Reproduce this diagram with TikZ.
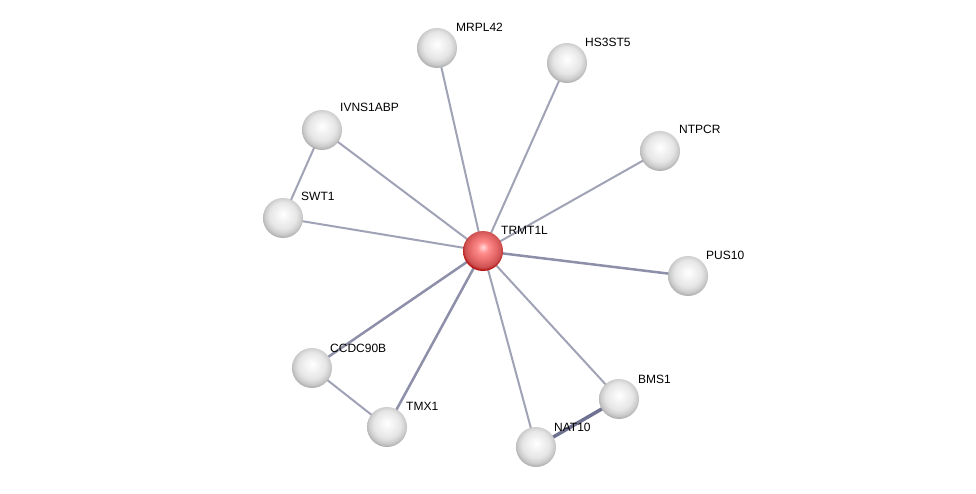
\documentclass[tikz,border=0pt]{standalone}
\usepackage{fontspec}
\setmainfont{Liberation Sans}
\usetikzlibrary{backgrounds}
\pgfdeclareradialshading{bead}{\pgfpoint{0bp}{5bp}}{color(0bp)=(white); color(7bp)=(gray!8); color(17bp)=(gray!20); color(23bp)=(gray!40); color(27bp)=(gray!65); color(50bp)=(gray!65)}
\pgfdeclareradialshading{redbead}{\pgfpoint{0bp}{5bp}}{color(0bp)=(red!15!white); color(7bp)=(red!45!white); color(17bp)=(red!55!white!90!black); color(23bp)=(red!60!white!80!black); color(27bp)=(red!70!black); color(50bp)=(red!70!black)}
\begin{document}
\begin{tikzpicture}[x=1pt,y=-1pt,
  prot/.style={circle,minimum size=40pt,inner sep=0pt,shading=bead},
  hub/.style={prot,shading=redbead},
  lbl/.style={anchor=base west,inner sep=0pt,font=\fontsize{12}{14}\selectfont},
  link/.style={line width=2pt,color={rgb,255:red,160;green,162;blue,182}},
  strong/.style={line width=2.5pt,color={rgb,255:red,142;green,144;blue,170}}]
\useasboundingbox (0,0) rectangle (976,494);

% proteins
\node[hub] (trmt) at (483,251) {};
\node[prot] (mrpl) at (437,48) {};
\node[prot] (hs3) at (567,63) {};
\node[prot] (ivns) at (322,130) {};
\node[prot] (ntpcr) at (660,151) {};
\node[prot] (swt) at (283,218) {};
\node[prot] (pus) at (688,276) {};
\node[prot] (ccdc) at (312,368) {};
\node[prot] (bms) at (619,399) {};
\node[prot] (tmx) at (387,427) {};
\node[prot] (nat) at (536,447) {};

% edges
\begin{scope}[on background layer]
\draw[link] (trmt.center) -- (mrpl.center);
\draw[link] (trmt.center) -- (hs3.center);
\draw[link] (trmt.center) -- (ivns.center);
\draw[link] (trmt.center) -- (ntpcr.center);
\draw[link] (trmt.center) -- (swt.center);
\draw[strong] (trmt.center) -- (pus.center);
\draw[strong] (trmt.center) -- (ccdc.center);
\draw[link] (trmt.center) -- (bms.center);
\draw[strong] (trmt.center) -- (tmx.center);
\draw[link] (trmt.center) -- (nat.center);
\draw[link] (ivns.center) -- (swt.center);
\draw[link] (ccdc.center) -- (tmx.center);
\draw[line width=3.5pt,color={rgb,255:red,112;green,114;blue,145}] (bms.center) -- (nat.center);
\end{scope}

% labels
\node[lbl] at (456,32) {MRPL42};
\node[lbl] at (585,47) {HS3ST5};
\node[lbl] at (340,112) {IVNS1ABP};
\node[lbl] at (679,134) {NTPCR};
\node[lbl] at (301,201) {SWT1};
\node[lbl] at (501,234) {TRMT1L};
\node[lbl] at (706,259) {PUS10};
\node[lbl] at (330,352) {CCDC90B};
\node[lbl] at (638,383) {BMS1};
\node[lbl] at (406,410) {TMX1};
\node[lbl] at (554,431) {NAT10};
\end{tikzpicture}
\end{document}
